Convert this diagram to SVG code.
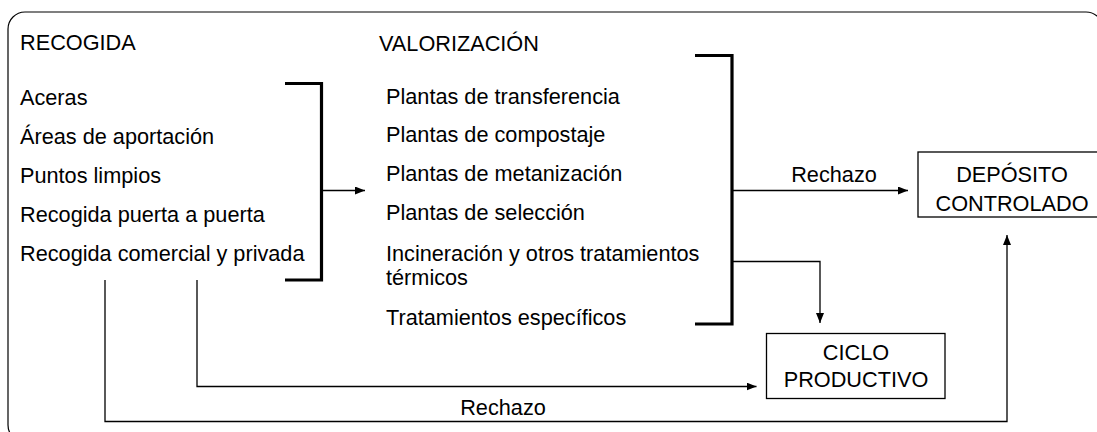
<svg xmlns="http://www.w3.org/2000/svg" width="1097" height="432" viewBox="0 0 1097 432">
<style>
text{font-family:"Liberation Sans",Arial,sans-serif;font-size:21.7px;fill:#000}
.c{text-anchor:middle}
.ln{fill:none;stroke:#000;stroke-width:1.3}
.br{fill:none;stroke:#000;stroke-width:3.2}
.box{fill:#fff;stroke:#000;stroke-width:1.3}
</style>
<defs>
<marker id="ah" viewBox="0 0 10 8" refX="10" refY="4" markerWidth="10" markerHeight="8" markerUnits="userSpaceOnUse" orient="auto">
<path d="M0,0 L10,4 L0,8 Z" fill="#000"/>
</marker>
</defs>
<rect width="1097" height="432" fill="#fff"/>
<rect id="frame" x="8" y="12" width="1095" height="430" rx="17" ry="17" fill="none" stroke="#000" stroke-width="1.2"/>

<g id="recogida">
<text x="20" y="50">RECOGIDA</text>
<text x="20" y="104.5">Aceras</text>
<text x="20" y="143.5">Áreas de aportación</text>
<text x="20" y="182.5">Puntos limpios</text>
<text x="20" y="221.5">Recogida puerta a puerta</text>
<text x="20" y="260.5">Recogida comercial y privada</text>
</g>

<g id="valorizacion">
<text x="379" y="51">VALORIZACIÓN</text>
<text x="386" y="103.5">Plantas de transferencia</text>
<text x="386" y="142">Plantas de compostaje</text>
<text x="386" y="180.5">Plantas de metanización</text>
<text x="386" y="220">Plantas de selección</text>
<text x="386" y="261">Incineración y otros tratamientos</text>
<text x="386" y="285">térmicos</text>
<text x="386" y="325">Tratamientos específicos</text>
</g>

<g id="deposito">
<rect class="box" x="918" y="152" width="190" height="65"/>
<text class="c" x="1012" y="182">DEPÓSITO</text>
<text class="c" x="1012" y="211">CONTROLADO</text>
</g>

<g id="ciclo">
<rect class="box" x="766.5" y="333.5" width="178.5" height="65"/>
<text class="c" x="856" y="360">CICLO</text>
<text class="c" x="856" y="387">PRODUCTIVO</text>
</g>

<g id="connectors">
<path class="br" d="M285,83.5 H321.5 V280 H285"/>
<path class="br" d="M695,55.5 H732 V324 H695"/>
<path class="ln" d="M321.5,190.5 H365" marker-end="url(#ah)"/>
<path class="ln" d="M732,190.5 H908" marker-end="url(#ah)"/>
<path class="ln" d="M732,261.5 H820 V323" marker-end="url(#ah)"/>
<path class="ln" d="M197,280 V386.5 H756.5" marker-end="url(#ah)"/>
<path class="ln" d="M105,280 V421.5 H1007 V235" marker-end="url(#ah)"/>
<text class="c" x="834" y="182">Rechazo</text>
<text class="c" x="503" y="415">Rechazo</text>
</g>
</svg>
